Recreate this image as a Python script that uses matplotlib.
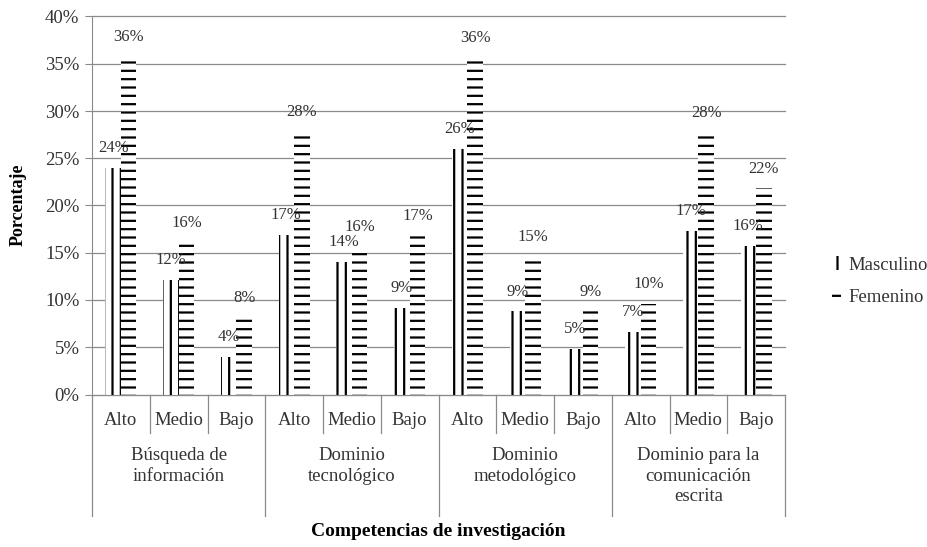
"""
Recreate the bar chart of research competencies by sex (Masculino / Femenino).
"""
import matplotlib

matplotlib.use("Agg")

import matplotlib.pyplot as plt
import numpy as np
from matplotlib.patches import Patch
from matplotlib.ticker import PercentFormatter

levels = ["Alto", "Medio", "Bajo"] * 4
groups = [
    "Búsqueda de\ninformación",
    "Dominio\ntecnológico",
    "Dominio\nmetodológico",
    "Dominio para la\ncomunicación\nescrita",
]
masculino = [24.0, 12.1, 4.0, 16.9, 14.0, 9.2, 26.0, 8.8, 4.8, 6.6, 17.3, 15.7]
femenino = [35.7, 16.1, 8.1, 27.8, 15.6, 16.8, 35.6, 14.6, 8.8, 9.6, 27.7, 21.8]
yticks = [0, 5, 10, 15, 20, 25, 30, 35, 40]

plt.rcParams["font.family"] = ["Liberation Serif", "DejaVu Serif"]
plt.rcParams["hatch.linewidth"] = 1.6

W, H = 928, 547
GRID = "#8a8a8a"
TXT = "#333333"
FS = 13.5

fig = plt.figure(figsize=(W / 100, H / 100), dpi=100)
ax = fig.add_axes([92 / W, 1 - 394.5 / H, (785 - 92) / W, (394.5 - 16.5) / H])
axh = 378.0  # axes height in px

x = np.arange(len(levels))
bw = 0.27
bars_m = ax.bar(x - bw / 2, masculino, bw, facecolor="white", edgecolor="black",
                linewidth=0, hatch="||", zorder=2)
bars_f = ax.bar(x + bw / 2, femenino, bw, facecolor="white", edgecolor="black",
                linewidth=0, hatch="--", zorder=2)

for bars, vals in ((bars_m, masculino), (bars_f, femenino)):
    for b, v in zip(bars, vals):
        ax.annotate(f"{v:.0f}%", (b.get_x() + b.get_width() / 2, v),
                    xytext=(0, 8.5), textcoords="offset points",
                    ha="center", va="bottom", fontsize=12, color=TXT, zorder=3)

ax.set_xlim(-0.5, 11.5)
ax.set_ylim(0, 40)
ax.set_yticks(yticks)
ax.yaxis.set_major_formatter(PercentFormatter(decimals=0))
ax.tick_params(axis="y", length=5, color=GRID, labelsize=FS, labelcolor=TXT, pad=4)
ax.set_xticks([])
ax.yaxis.grid(True, color=GRID, linewidth=0.9)
ax.set_axisbelow(True)
for gl in ax.get_ygridlines():
    gl.set_clip_on(False)
for side in ("top", "right"):
    ax.spines[side].set_visible(False)
for side in ("left", "bottom"):
    ax.spines[side].set_color(GRID)

# multi-level category axis
trans = ax.get_xaxis_transform()
for b in np.arange(-0.5, 12, 1):
    depth = 121 if (b + 0.5) % 3 == 0 else 38
    ax.plot([b, b], [0, -depth / axh], transform=trans, color=GRID, lw=0.9,
            clip_on=False)
for xi, lev in zip(x, levels):
    ax.text(xi, -26 / axh, lev, transform=trans, ha="center", va="center",
            fontsize=FS, color=TXT)
for gi, g in enumerate(groups):
    ax.text(3 * gi + 1, -53 / axh, g, transform=trans, ha="center", va="top",
            fontsize=FS, color=TXT, linespacing=1.25)

handles = [
    Patch(facecolor="white", edgecolor="black", linewidth=0, hatch="||", label="Masculino"),
    Patch(facecolor="white", edgecolor="black", linewidth=0, hatch="--", label="Femenino"),
]
leg = fig.legend(handles=handles, loc="center left", bbox_to_anchor=(815 / W, 1 - 281 / H),
                 frameon=False, fontsize=FS, handlelength=0.5, handleheight=0.7,
                 handletextpad=0.4, labelspacing=0.8)
for t in leg.get_texts():
    t.set_color(TXT)

fig.text(438 / W, 1 - 532 / H, "Competencias de investigación", ha="center", va="center",
         fontweight="bold", fontsize=14, color="black")
fig.text(18 / W, 1 - 205 / H, "Porcentaje", rotation=90, ha="center", va="center",
         fontweight="bold", fontsize=13, color="black")

fig.savefig("out.png", dpi=100)
